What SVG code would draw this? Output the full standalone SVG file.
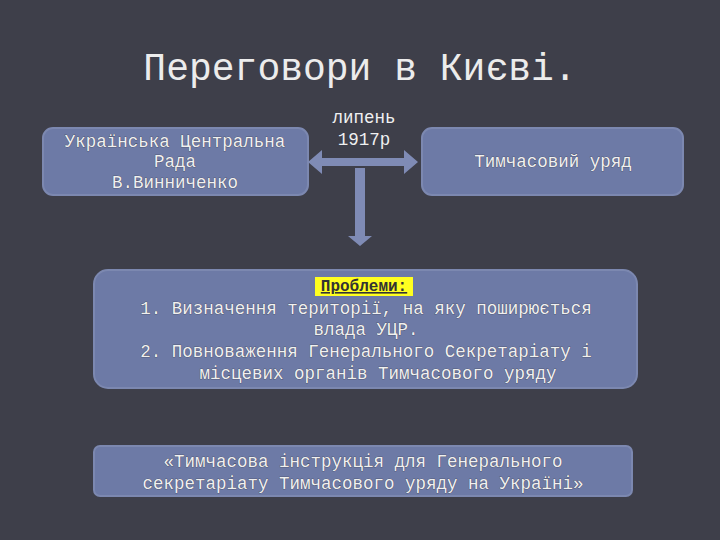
<svg xmlns="http://www.w3.org/2000/svg" width="720" height="540" viewBox="0 0 720 540">
<style>
.box{fill:#6d7aa6;stroke:#7c88b0;stroke-width:2}
.t{font-family:"Liberation Mono","DejaVu Sans Mono",monospace;font-size:17.5px;fill:#f0f0f0;text-anchor:middle;stroke:#3a3c4c;stroke-width:0.6;paint-order:stroke}
.ar{fill:#7f8bb5}
</style>
<rect width="720" height="540" fill="#3e3f4a"/>
<text x="360" y="80" font-family="Liberation Mono,monospace" font-size="38" fill="#ececec" text-anchor="middle">Переговори в Києві.</text>
<g id="connectors">
<path class="ar" d="M308,162 L322,150 L322,158 L404,158 L404,150 L418,162 L404,174 L404,166 L322,166 L322,174 Z"/>
<path class="ar" d="M355,168 L365,168 L365,236 L372,236 L360,246 L348,236 L355,236 Z"/>
</g>
<g id="n1"><rect class="box" x="43" y="128" width="265" height="67" rx="10"/>
<text class="t" x="175" y="147">Українська Центральна</text><text class="t" x="175" y="167">Рада</text><text class="t" x="175" y="188">В.Винниченко</text></g>
<g id="lbl"><text class="t" x="364" y="123">липень</text><text class="t" x="364" y="145">1917р</text></g>
<g id="n2"><rect class="box" x="422" y="128" width="261" height="67" rx="10"/>
<text class="t" x="553" y="167">Тимчасовий уряд</text></g>
<g id="n3"><rect class="box" x="94" y="270" width="543" height="118" rx="14"/>
<rect x="315" y="277" width="98" height="19" fill="#ffff20"/>
<text x="364" y="291" font-family="Liberation Mono,monospace" font-size="16" font-weight="bold" fill="#333" text-anchor="middle" text-decoration="underline">Проблеми:</text>
<text class="t" x="366" y="314">1. Визначення території, на яку поширюється</text>
<text class="t" x="366" y="335">влада УЦР.</text>
<text class="t" x="366" y="357">2. Повноваження Генерального Секретаріату і</text>
<text class="t" x="378" y="379">місцевих органів Тимчасового уряду</text></g>
<g id="n4"><rect class="box" x="94" y="446" width="538" height="50" rx="6"/>
<text class="t" x="363" y="467">«Тимчасова інструкція для Генерального</text>
<text class="t" x="363" y="489">секретаріату Тимчасового уряду на Україні»</text></g>
</svg>
